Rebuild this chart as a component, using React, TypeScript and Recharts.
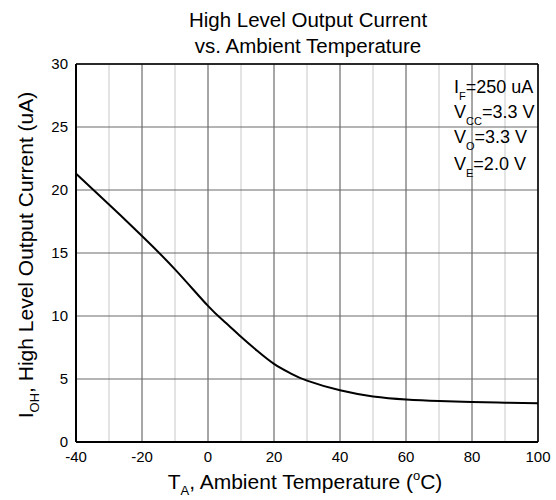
import React from "react";
import { LineChart, Line, XAxis, YAxis, CartesianGrid, ReferenceLine } from "recharts";

const temperatures = [-40, -30, -20, -10, 0, 5, 10, 15, 20, 25, 30, 40, 50, 60, 70, 80, 90, 100];
const currentUA = [21.3, 18.85, 16.35, 13.7, 10.8, 9.55, 8.35, 7.22, 6.2, 5.45, 4.87, 4.1, 3.62, 3.38, 3.25, 3.17, 3.12, 3.07];

const xMajorTicks = [-40, -20, 0, 20, 40, 60, 80, 100];
const xMinorTicks = [-40, -30, -20, -10, 0, 10, 20, 30, 40, 50, 60, 70, 80, 90, 100];
const yMajorTicks = [0, 5, 10, 15, 20, 25, 30];
const yMinorTicks = [0, 2.5, 5, 7.5, 10, 12.5, 15, 17.5, 20, 22.5, 25, 27.5, 30];

const data = temperatures.map((t, i) => ({ t, i: currentUA[i] }));

const FONT = "'Liberation Sans', Arial, sans-serif";

export default function App() {
  return (
    <div style={{ position: "absolute", left: 0, top: 0, width: 556, height: 500, background: "#fff" }}>
      <LineChart
        width={556}
        height={500}
        data={data}
        margin={{ top: 64, right: 18, bottom: 28, left: 0 }}
        style={{ fontFamily: FONT }}
      >
        <XAxis xAxisId="minor" dataKey="t" type="number" domain={[-40, 100]} ticks={xMinorTicks} hide />
        <YAxis yAxisId="minor" type="number" domain={[0, 30]} ticks={yMinorTicks} hide />
        <CartesianGrid xAxisId="minor" yAxisId="minor" stroke="#c8c8c8" strokeWidth={1} />
        <CartesianGrid stroke="#6a6a6a" strokeWidth={1} />
        <XAxis
          dataKey="t"
          type="number"
          domain={[-40, 100]}
          ticks={xMajorTicks}
          height={30}
          tickLine={false}
          tickSize={0}
          tickMargin={9}
          axisLine={{ stroke: "#000", strokeWidth: 2 }}
          tick={{ fill: "#000", fontSize: 15, fontFamily: FONT }}
          interval={0}
        />
        <YAxis
          type="number"
          domain={[0, 30]}
          ticks={yMajorTicks}
          width={76}
          tickLine={false}
          tickSize={0}
          tickMargin={8}
          axisLine={{ stroke: "#000", strokeWidth: 2 }}
          tick={{ fill: "#000", fontSize: 15, fontFamily: FONT }}
          interval={0}
        />
        <ReferenceLine y={30} stroke="#000" strokeWidth={1.5} ifOverflow="visible" />
        <ReferenceLine x={100} stroke="#000" strokeWidth={1.5} ifOverflow="visible" />
        <Line
          type="natural"
          dataKey="i"
          stroke="#000"
          strokeWidth={2}
          dot={false}
          isAnimationActive={false}
        />
      </LineChart>
      <svg
        width={556}
        height={500}
        style={{ position: "absolute", left: 0, top: 0, pointerEvents: "none" }}
        fontFamily={FONT}
      >
        <text x={308} y={27} textAnchor="middle" fontSize={20.5} fill="#000">High Level Output Current</text>
        <text x={308} y={53} textAnchor="middle" fontSize={20.5} fill="#000">vs. Ambient Temperature</text>

        <text x={305} y={489} textAnchor="middle" fontSize={21} fill="#000">
          T<tspan fontSize={13} dy={6}>A</tspan>
          <tspan dy={-6}>, Ambient Temperature (</tspan>
          <tspan fontSize={13} dy={-9}>o</tspan>
          <tspan dy={9}>C)</tspan>
        </text>

        <text x={33} y={255} textAnchor="middle" fontSize={21} fill="#000" transform="rotate(-90 33 255)">
          I<tspan fontSize={13} dy={6}>OH</tspan>
          <tspan dy={-6}>, High Level Output Current (uA)</tspan>
        </text>

        <g fontSize={18} fill="#000">
          <text x={454} y={93}>
            I<tspan fontSize={11} dy={7}>F</tspan><tspan dy={-7}>=250 uA</tspan>
          </text>
          <text x={454} y={118}>
            V<tspan fontSize={11} dy={7}>CC</tspan><tspan dy={-7}>=3.3 V</tspan>
          </text>
          <text x={454} y={143}>
            V<tspan fontSize={11} dy={7}>O</tspan><tspan dy={-7}>=3.3 V</tspan>
          </text>
          <text x={454} y={170}>
            V<tspan fontSize={11} dy={7}>E</tspan><tspan dy={-7}>=2.0 V</tspan>
          </text>
        </g>
      </svg>
    </div>
  );
}
